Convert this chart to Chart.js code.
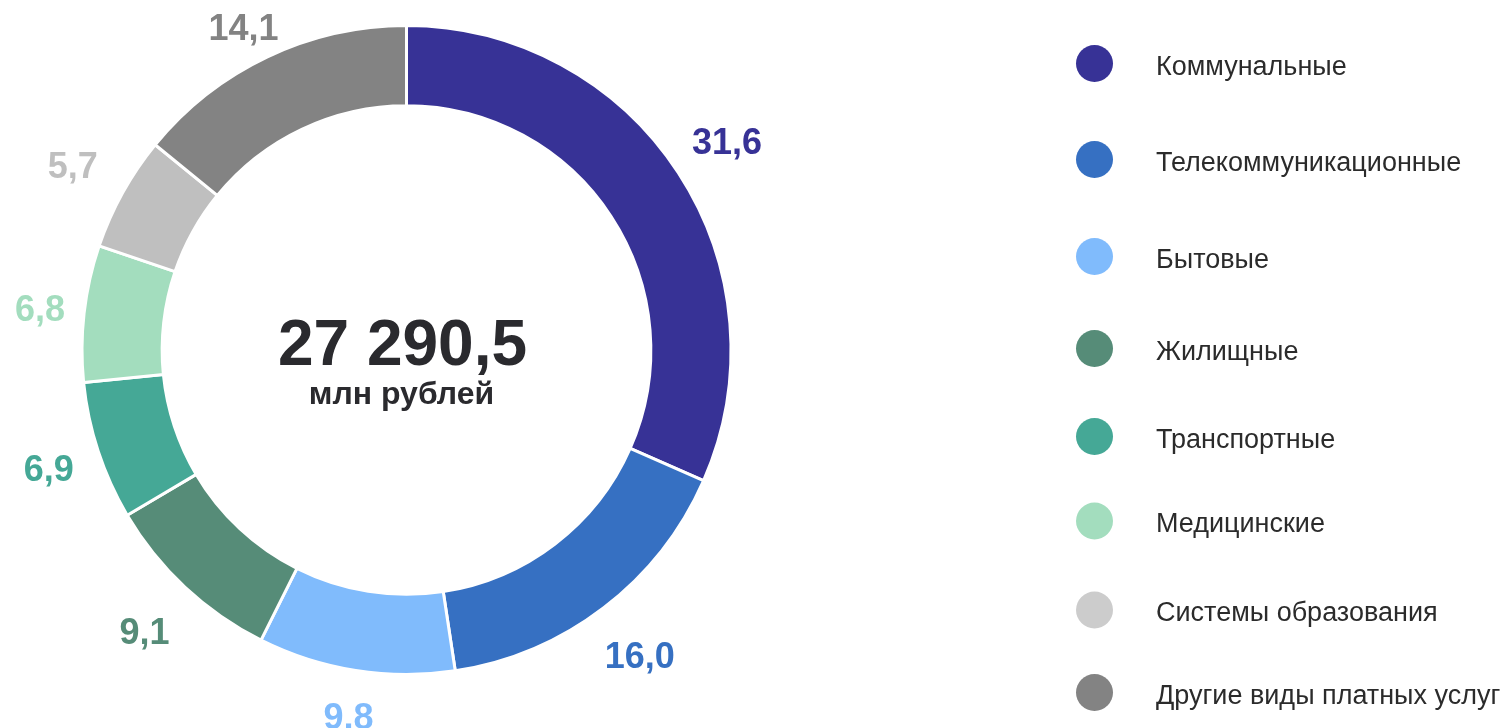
<!DOCTYPE html>
<html>
<head>
<meta charset="utf-8">
<script src="https://cdn.jsdelivr.net/npm/chart.js@4/dist/chart.umd.min.js"></script>
<style>
  html, body { margin: 0; padding: 0; background: #ffffff; overflow: hidden; }
  #wrap { position: relative; width: 1506px; height: 728px; }
</style>
</head>
<body>
<div id="wrap"><canvas id="c" width="1506" height="728"></canvas></div>
<script>
// ---- data ----
const categories = ["Коммунальные", "Телекоммуникационные", "Бытовые", "Жилищные",
                    "Транспортные", "Медицинские", "Системы образования", "Другие виды платных услуг"];
const shares = [31.6, 16.0, 9.8, 9.1, 6.9, 6.8, 5.7, 14.1];
const totalValue = "27 290,5";
const totalUnit = "млн рублей";

// ---- styles ----
const sliceColors  = ["#373296", "#3670C2", "#80BBFC", "#568C78", "#45A896", "#A3DDBE", "#BFBFBF", "#838383"];
const legendColors = ["#373296", "#3670C2", "#80BBFC", "#568C78", "#45A896", "#A3DDBE", "#CCCCCC", "#838383"];
const legendRowY   = [63.5, 159.5, 256.5, 348.5, 436.5, 521, 610, 692.5];
const FONT = '"Liberation Sans", Arial, Helvetica, sans-serif';

function fmt(v) { return v.toFixed(1).replace('.', ','); }

const labelPlugin = {
  id: 'outerLabels',
  afterDatasetsDraw(chart) {
    const ctx = chart.ctx;
    const meta = chart.getDatasetMeta(0);
    ctx.save();
    ctx.font = 'bold 36px ' + FONT;
    ctx.textAlign = 'center';
    ctx.textBaseline = 'alphabetic';
    meta.data.forEach((arc, i) => {
      const p = arc.getProps(['x', 'y', 'startAngle', 'endAngle', 'outerRadius'], true);
      const mid = (p.startAngle + p.endAngle) / 2;
      const ux = Math.cos(mid), uy = Math.sin(mid);
      const txt = fmt(shares[i]);
      const d = p.outerRadius - 11 + 50 * (Math.abs(ux) + Math.abs(uy));
      const lx = p.x + ux * d;
      let ly = p.y + uy * d;
      ly = Math.max(ly, 27);
      ctx.fillStyle = sliceColors[i];
      ctx.fillText(txt, lx, ly + 13);
    });
    // center text
    const a0 = meta.data[0];
    ctx.fillStyle = '#2a2a2e';
    ctx.font = 'bold 64px ' + FONT;
    ctx.fillText(totalValue, a0.x - 4, 365);
    ctx.font = 'bold 32px ' + FONT;
    ctx.fillText(totalUnit, a0.x - 5, 404);
    ctx.restore();
  }
};

const legendPlugin = {
  id: 'sideLegend',
  afterDraw(chart) {
    const ctx = chart.ctx;
    ctx.save();
    categories.forEach((name, i) => {
      const cy = legendRowY[i];
      ctx.beginPath();
      ctx.arc(1094.5, cy, 18.5, 0, Math.PI * 2);
      ctx.fillStyle = legendColors[i];
      ctx.fill();
      ctx.fillStyle = '#2b2b2b';
      ctx.font = '27px ' + FONT;
      ctx.textAlign = 'left';
      ctx.textBaseline = 'alphabetic';
      ctx.fillText(name, 1156, cy + 11);
    });
    ctx.restore();
  }
};

new Chart(document.getElementById('c'), {
  type: 'doughnut',
  data: {
    labels: categories,
    datasets: [{
      data: shares,
      backgroundColor: sliceColors,
      borderColor: '#ffffff',
      borderWidth: 3,
      hoverOffset: 0
    }]
  },
  options: {
    responsive: false,
    animation: false,
    devicePixelRatio: 1,
    cutout: '75.3%',
    layout: { padding: { left: 80.5, top: 24, right: 773.5, bottom: 52 } },
    plugins: { legend: { display: false }, tooltip: { enabled: false } }
  },
  plugins: [labelPlugin, legendPlugin]
});
</script>
</body>
</html>
